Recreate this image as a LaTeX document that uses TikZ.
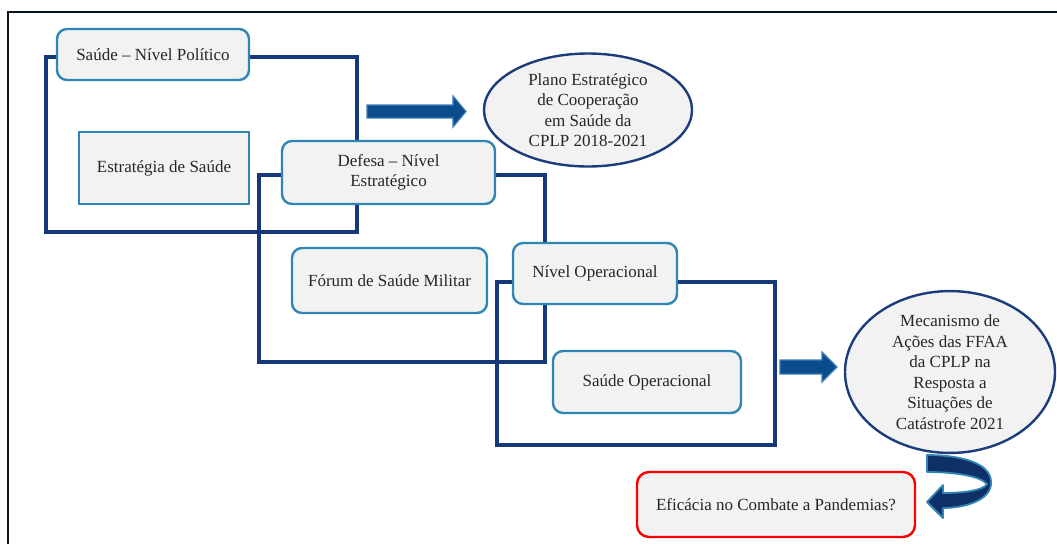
\documentclass[tikz,border=0pt]{standalone}
\usepackage{fontspec}
\setmainfont{Liberation Serif}
\usetikzlibrary{shapes.geometric}
\definecolor{navyline}{HTML}{14387A}
\definecolor{boxline}{HTML}{2F85B3}
\definecolor{boxfill}{HTML}{F2F2F2}
\definecolor{ellline}{HTML}{1D3C7C}
\definecolor{arrfill}{HTML}{0B4C8C}
\definecolor{arrline}{HTML}{3B7DB8}
\definecolor{curvefill}{HTML}{0E2F68}
\definecolor{txt}{HTML}{262626}
\definecolor{framecol}{HTML}{0A1520}
\tikzset{
  lvlframe/.style={draw=navyline, line width=4pt, line join=miter},
  lbox/.style={draw=boxline, fill=boxfill, line width=2.4pt, rounded corners=10pt,
    inner sep=0pt, align=center, text=txt, font=\fontsize{17}{20.5}\selectfont},
  sbox/.style={lbox, rounded corners=0pt},
  redbox/.style={lbox, draw=red, rounded corners=12pt},
  ell/.style={ellipse, draw=ellline, fill=boxfill, line width=2.4pt, inner sep=0pt,
    align=center, text=txt, font=\fontsize{17}{20.5}\selectfont},
  blockarrow/.style={fill=arrfill, draw=arrline, line width=1.2pt, line join=miter},
  curvearrow/.style={fill=curvefill, draw=boxline, line width=1.8pt, line join=round}
}
\begin{document}
\begin{tikzpicture}[x=1pt,y=-1pt]
\useasboundingbox (0,0) rectangle (1057,544);
% outer frame
\draw[framecol, line width=2.2pt] (8,544) -- (8,12) -- (1057,12);
% level frames
\draw[lvlframe] (46,57) rectangle (357,232);
\draw[lvlframe] (259,175) rectangle (545,362);
\draw[lvlframe] (497,282) rectangle (775,445);
% nodes
\node[lbox, minimum width=192pt, minimum height=51pt] (pol) at (153,54.5) {Saúde – Nível Político};
\node[sbox, minimum width=170pt, minimum height=72pt] (est) at (164,168) {Estratégia de Saúde};
\node[lbox, minimum width=213pt, minimum height=63pt] (def) at (388.5,172.5) {Defesa – Nível\\Estratégico};
\node[lbox, minimum width=195pt, minimum height=65pt] (for) at (389.5,280.5) {Fórum de Saúde Militar};
\node[lbox, minimum width=164pt, minimum height=61pt] (nop) at (595,273.5) {Nível Operacional};
\node[lbox, minimum width=188pt, minimum height=62pt] (sop) at (647,382) {Saúde Operacional};
\node[redbox, minimum width=278pt, minimum height=65pt] (efi) at (776,504.5) {Eficácia no Combate a Pandemias?};
\node[ell, minimum width=208pt, minimum height=113pt] (plano) at (588,110) {Plano Estratégico\\de Cooperação\\em Saúde da\\CPLP 2018-2021};
\node[ell, minimum width=210pt, minimum height=150pt] (mec) at (950,372) {Mecanismo de\\Ações das FFAA\\da CPLP na\\Resposta a\\Situações de\\Catástrofe 2021};
% block arrows
\fill[blockarrow] (367,105) -- (453,105) -- (453,96) -- (466,111.5) -- (453,127) -- (453,118) -- (367,118) -- cycle;
\fill[blockarrow] (780,360) -- (822,360) -- (822,352) -- (837,367) -- (822,382) -- (822,374) -- (780,374) -- cycle;
% curved arrow
\filldraw[curvearrow] (927,455) .. controls (958,455) and (991,462) .. (991,482)
  .. controls (992,500) and (965,508) .. (943,508) -- (943,518) -- (927,502) -- (943,485) -- (943,493)
  .. controls (965,493) and (984,490) .. (987,484)
  .. controls (980,476) and (955,472) .. (927,472) -- cycle;
\end{tikzpicture}
\end{document}
